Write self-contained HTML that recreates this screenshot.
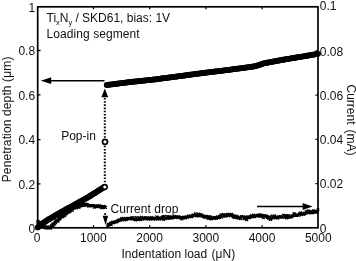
<!DOCTYPE html><html><head><meta charset="utf-8"><style>html,body{margin:0;padding:0;background:#fff}</style></head><body><svg width="356" height="261" viewBox="0 0 356 261" style="display:block;font-family:'Liberation Sans',Arial,sans-serif"><rect width="356" height="261" fill="#fff"/><path d="M36.4 220.7l2.7 2.7M36.4 223.4l2.7 -2.7M36.7 220.0l2.7 2.7M36.7 222.7l2.7 -2.7M37.1 220.9l2.7 2.7M37.1 223.6l2.7 -2.7M37.4 221.7l2.7 2.7M37.4 224.4l2.7 -2.7M37.8 221.6l2.7 2.7M37.8 224.3l2.7 -2.7M38.1 222.7l2.7 2.7M38.1 225.4l2.7 -2.7M38.5 223.3l2.7 2.7M38.5 226.0l2.7 -2.7M38.9 222.8l2.7 2.7M38.9 225.5l2.7 -2.7M39.5 224.8l2.7 2.7M39.5 227.5l2.7 -2.7M40.1 224.9l2.7 2.7M40.1 227.6l2.7 -2.7M40.7 224.6l2.7 2.7M40.7 227.3l2.7 -2.7M41.3 225.2l2.7 2.7M41.3 227.9l2.7 -2.7M41.9 226.0l2.7 2.7M41.9 228.7l2.7 -2.7M42.5 225.9l2.7 2.7M42.5 228.6l2.7 -2.7M43.2 226.0l2.7 2.7M43.2 228.7l2.7 -2.7M43.9 225.3l2.7 2.7M43.9 228.0l2.7 -2.7M44.6 226.6l2.7 2.7M44.6 229.3l2.7 -2.7M45.3 226.4l2.7 2.7M45.3 229.1l2.7 -2.7M46.0 226.5l2.7 2.7M46.0 229.2l2.7 -2.7M46.7 225.4l2.7 2.7M46.7 228.1l2.7 -2.7M47.4 226.8l2.7 2.7M47.4 229.5l2.7 -2.7M48.1 226.5l2.7 2.7M48.1 229.2l2.7 -2.7M48.7 226.1l2.7 2.7M48.7 228.8l2.7 -2.7M49.3 226.8l2.7 2.7M49.3 229.5l2.7 -2.7M49.8 225.4l2.7 2.7M49.8 228.1l2.7 -2.7M50.3 224.1l2.7 2.7M50.3 226.8l2.7 -2.7M50.8 224.2l2.7 2.7M50.8 226.9l2.7 -2.7M51.3 222.6l2.7 2.7M51.3 225.3l2.7 -2.7M51.8 224.1l2.7 2.7M51.8 226.8l2.7 -2.7M52.3 222.7l2.7 2.7M52.3 225.4l2.7 -2.7M52.8 222.0l2.7 2.7M52.8 224.7l2.7 -2.7M53.3 222.6l2.7 2.7M53.3 225.3l2.7 -2.7M53.8 220.5l2.7 2.7M53.8 223.2l2.7 -2.7M54.3 221.3l2.7 2.7M54.3 224.0l2.7 -2.7M54.8 219.3l2.7 2.7M54.8 222.0l2.7 -2.7M55.3 219.6l2.7 2.7M55.3 222.3l2.7 -2.7M55.8 218.8l2.7 2.7M55.8 221.5l2.7 -2.7M56.3 219.9l2.7 2.7M56.3 222.6l2.7 -2.7M56.8 219.6l2.7 2.7M56.8 222.3l2.7 -2.7M57.3 217.8l2.7 2.7M57.3 220.5l2.7 -2.7M57.8 218.0l2.7 2.7M57.8 220.7l2.7 -2.7M58.4 217.0l2.7 2.7M58.4 219.7l2.7 -2.7M58.9 217.0l2.7 2.7M58.9 219.7l2.7 -2.7M59.4 215.7l2.7 2.7M59.4 218.4l2.7 -2.7M60.0 214.7l2.7 2.7M60.0 217.4l2.7 -2.7M60.5 214.2l2.7 2.7M60.5 216.9l2.7 -2.7M61.1 215.1l2.7 2.7M61.1 217.8l2.7 -2.7M61.6 215.7l2.7 2.7M61.6 218.4l2.7 -2.7M62.2 214.1l2.7 2.7M62.2 216.8l2.7 -2.7M62.7 213.2l2.7 2.7M62.7 215.9l2.7 -2.7M63.3 214.3l2.7 2.7M63.3 217.0l2.7 -2.7M63.9 212.9l2.7 2.7M63.9 215.6l2.7 -2.7M64.5 212.4l2.7 2.7M64.5 215.1l2.7 -2.7M65.0 212.1l2.7 2.7M65.0 214.8l2.7 -2.7M65.6 211.4l2.7 2.7M65.6 214.1l2.7 -2.7M66.2 210.9l2.7 2.7M66.2 213.6l2.7 -2.7M66.8 209.9l2.7 2.7M66.8 212.6l2.7 -2.7M67.4 210.6l2.7 2.7M67.4 213.3l2.7 -2.7M68.0 209.9l2.7 2.7M68.0 212.6l2.7 -2.7M68.5 210.3l2.7 2.7M68.5 213.0l2.7 -2.7M69.1 209.0l2.7 2.7M69.1 211.7l2.7 -2.7M69.7 207.7l2.7 2.7M69.7 210.4l2.7 -2.7M70.3 208.4l2.7 2.7M70.3 211.1l2.7 -2.7M70.9 209.1l2.7 2.7M70.9 211.8l2.7 -2.7M71.5 207.5l2.7 2.7M71.5 210.2l2.7 -2.7M72.1 206.8l2.7 2.7M72.1 209.5l2.7 -2.7M72.7 206.3l2.7 2.7M72.7 209.0l2.7 -2.7M73.3 206.0l2.7 2.7M73.3 208.7l2.7 -2.7M74.0 206.1l2.7 2.7M74.0 208.8l2.7 -2.7M74.6 205.4l2.7 2.7M74.6 208.1l2.7 -2.7M75.3 206.7l2.7 2.7M75.3 209.4l2.7 -2.7M75.9 205.4l2.7 2.7M75.9 208.1l2.7 -2.7M76.6 205.4l2.7 2.7M76.6 208.1l2.7 -2.7M77.2 205.9l2.7 2.7M77.2 208.6l2.7 -2.7M77.9 205.7l2.7 2.7M77.9 208.4l2.7 -2.7M78.6 204.4l2.7 2.7M78.6 207.1l2.7 -2.7M79.2 204.5l2.7 2.7M79.2 207.2l2.7 -2.7M79.9 204.5l2.7 2.7M79.9 207.2l2.7 -2.7M80.5 203.7l2.7 2.7M80.5 206.4l2.7 -2.7M81.2 202.7l2.7 2.7M81.2 205.4l2.7 -2.7M81.9 204.0l2.7 2.7M81.9 206.7l2.7 -2.7M82.6 204.1l2.7 2.7M82.6 206.8l2.7 -2.7M83.3 203.7l2.7 2.7M83.3 206.4l2.7 -2.7M84.0 202.8l2.7 2.7M84.0 205.5l2.7 -2.7M84.7 203.1l2.7 2.7M84.7 205.8l2.7 -2.7M85.4 203.0l2.7 2.7M85.4 205.7l2.7 -2.7M86.1 203.3l2.7 2.7M86.1 206.0l2.7 -2.7M86.8 204.4l2.7 2.7M86.8 207.1l2.7 -2.7M87.5 204.7l2.7 2.7M87.5 207.4l2.7 -2.7M88.2 204.3l2.7 2.7M88.2 207.0l2.7 -2.7M88.9 204.3l2.7 2.7M88.9 207.0l2.7 -2.7M89.6 204.5l2.7 2.7M89.6 207.2l2.7 -2.7M90.2 204.2l2.7 2.7M90.2 206.9l2.7 -2.7M90.9 204.3l2.7 2.7M90.9 207.0l2.7 -2.7M91.6 204.1l2.7 2.7M91.6 206.8l2.7 -2.7M92.3 204.6l2.7 2.7M92.3 207.3l2.7 -2.7M93.0 206.0l2.7 2.7M93.0 208.7l2.7 -2.7M93.7 205.3l2.7 2.7M93.7 208.0l2.7 -2.7M94.4 204.6l2.7 2.7M94.4 207.3l2.7 -2.7M95.1 204.6l2.7 2.7M95.1 207.3l2.7 -2.7M95.8 204.4l2.7 2.7M95.8 207.1l2.7 -2.7M96.5 205.2l2.7 2.7M96.5 207.9l2.7 -2.7M97.2 205.3l2.7 2.7M97.2 208.0l2.7 -2.7M97.9 204.2l2.7 2.7M97.9 206.9l2.7 -2.7M98.6 205.4l2.7 2.7M98.6 208.1l2.7 -2.7M99.3 204.8l2.7 2.7M99.3 207.5l2.7 -2.7M100.0 206.1l2.7 2.7M100.0 208.8l2.7 -2.7M100.7 205.4l2.7 2.7M100.7 208.1l2.7 -2.7M101.4 206.4l2.7 2.7M101.4 209.1l2.7 -2.7M102.1 205.1l2.7 2.7M102.1 207.8l2.7 -2.7M102.8 205.2l2.7 2.7M102.8 207.9l2.7 -2.7M103.5 205.6l2.7 2.7M103.5 208.3l2.7 -2.7M104.2 206.1l2.7 2.7M104.2 208.8l2.7 -2.7M106.2 224.7l2.7 2.7M106.2 227.4l2.7 -2.7M106.9 223.0l2.7 2.7M106.9 225.7l2.7 -2.7M107.5 223.7l2.7 2.7M107.5 226.4l2.7 -2.7M108.1 223.2l2.7 2.7M108.1 225.9l2.7 -2.7M108.7 222.5l2.7 2.7M108.7 225.2l2.7 -2.7M109.3 222.0l2.7 2.7M109.3 224.7l2.7 -2.7M109.9 223.4l2.7 2.7M109.9 226.1l2.7 -2.7M110.5 221.5l2.7 2.7M110.5 224.2l2.7 -2.7M111.1 220.8l2.7 2.7M111.1 223.5l2.7 -2.7M111.8 221.7l2.7 2.7M111.8 224.4l2.7 -2.7M112.4 221.0l2.7 2.7M112.4 223.7l2.7 -2.7M113.0 220.6l2.7 2.7M113.0 223.3l2.7 -2.7M113.7 220.9l2.7 2.7M113.7 223.6l2.7 -2.7M114.3 220.4l2.7 2.7M114.3 223.1l2.7 -2.7M115.0 220.1l2.7 2.7M115.0 222.8l2.7 -2.7M115.6 220.3l2.7 2.7M115.6 223.0l2.7 -2.7M116.3 219.6l2.7 2.7M116.3 222.3l2.7 -2.7M117.0 218.8l2.7 2.7M117.0 221.5l2.7 -2.7M117.7 218.9l2.7 2.7M117.7 221.6l2.7 -2.7M118.4 218.6l2.7 2.7M118.4 221.3l2.7 -2.7M119.1 219.0l2.7 2.7M119.1 221.7l2.7 -2.7M119.8 217.9l2.7 2.7M119.8 220.6l2.7 -2.7M120.4 217.2l2.7 2.7M120.4 219.9l2.7 -2.7M121.1 218.6l2.7 2.7M121.1 221.3l2.7 -2.7M121.8 217.4l2.7 2.7M121.8 220.1l2.7 -2.7M122.5 216.9l2.7 2.7M122.5 219.6l2.7 -2.7M123.2 218.5l2.7 2.7M123.2 221.2l2.7 -2.7M123.9 217.6l2.7 2.7M123.9 220.3l2.7 -2.7M124.6 218.5l2.7 2.7M124.6 221.2l2.7 -2.7M125.3 217.6l2.7 2.7M125.3 220.3l2.7 -2.7M126.0 217.1l2.7 2.7M126.0 219.8l2.7 -2.7M126.7 216.9l2.7 2.7M126.7 219.6l2.7 -2.7M127.4 217.4l2.7 2.7M127.4 220.1l2.7 -2.7M128.1 217.5l2.7 2.7M128.1 220.2l2.7 -2.7M128.8 217.1l2.7 2.7M128.8 219.8l2.7 -2.7M129.5 217.4l2.7 2.7M129.5 220.1l2.7 -2.7M130.2 216.5l2.7 2.7M130.2 219.2l2.7 -2.7M130.9 217.6l2.7 2.7M130.9 220.3l2.7 -2.7M131.6 216.2l2.7 2.7M131.6 218.9l2.7 -2.7M132.3 217.3l2.7 2.7M132.3 220.0l2.7 -2.7M133.0 217.9l2.7 2.7M133.0 220.6l2.7 -2.7M133.7 218.2l2.7 2.7M133.7 220.9l2.7 -2.7M134.4 218.6l2.7 2.7M134.4 221.3l2.7 -2.7M135.1 216.1l2.7 2.7M135.1 218.8l2.7 -2.7M135.8 217.8l2.7 2.7M135.8 220.5l2.7 -2.7M136.5 218.1l2.7 2.7M136.5 220.8l2.7 -2.7M137.2 217.9l2.7 2.7M137.2 220.6l2.7 -2.7M137.9 216.4l2.7 2.7M137.9 219.1l2.7 -2.7M138.6 217.4l2.7 2.7M138.6 220.1l2.7 -2.7M139.3 218.5l2.7 2.7M139.3 221.2l2.7 -2.7M140.0 215.9l2.7 2.7M140.0 218.6l2.7 -2.7M140.7 217.4l2.7 2.7M140.7 220.1l2.7 -2.7M141.4 217.9l2.7 2.7M141.4 220.6l2.7 -2.7M142.1 216.6l2.7 2.7M142.1 219.3l2.7 -2.7M142.8 217.5l2.7 2.7M142.8 220.2l2.7 -2.7M143.5 216.3l2.7 2.7M143.5 219.0l2.7 -2.7M144.2 216.5l2.7 2.7M144.2 219.2l2.7 -2.7M144.9 216.5l2.7 2.7M144.9 219.2l2.7 -2.7M145.6 217.3l2.7 2.7M145.6 220.0l2.7 -2.7M146.3 217.1l2.7 2.7M146.3 219.8l2.7 -2.7M147.0 217.8l2.7 2.7M147.0 220.5l2.7 -2.7M147.7 216.4l2.7 2.7M147.7 219.1l2.7 -2.7M148.4 217.0l2.7 2.7M148.4 219.7l2.7 -2.7M149.1 217.9l2.7 2.7M149.1 220.6l2.7 -2.7M149.8 217.5l2.7 2.7M149.8 220.2l2.7 -2.7M150.5 216.1l2.7 2.7M150.5 218.8l2.7 -2.7M151.2 217.6l2.7 2.7M151.2 220.3l2.7 -2.7M151.9 216.7l2.7 2.7M151.9 219.4l2.7 -2.7M152.6 217.4l2.7 2.7M152.6 220.1l2.7 -2.7M153.3 217.3l2.7 2.7M153.3 220.0l2.7 -2.7M154.0 218.0l2.7 2.7M154.0 220.7l2.7 -2.7M154.7 217.1l2.7 2.7M154.7 219.8l2.7 -2.7M155.4 215.6l2.7 2.7M155.4 218.3l2.7 -2.7M156.1 216.0l2.7 2.7M156.1 218.7l2.7 -2.7M156.8 217.5l2.7 2.7M156.8 220.2l2.7 -2.7M157.5 216.8l2.7 2.7M157.5 219.5l2.7 -2.7M158.2 217.8l2.7 2.7M158.2 220.5l2.7 -2.7M158.9 217.1l2.7 2.7M158.9 219.8l2.7 -2.7M159.6 216.3l2.7 2.7M159.6 219.0l2.7 -2.7M160.3 217.6l2.7 2.7M160.3 220.3l2.7 -2.7M161.0 216.2l2.7 2.7M161.0 218.9l2.7 -2.7M161.7 215.2l2.7 2.7M161.7 217.9l2.7 -2.7M162.4 218.2l2.7 2.7M162.4 220.9l2.7 -2.7M163.1 215.2l2.7 2.7M163.1 217.9l2.7 -2.7M163.8 217.1l2.7 2.7M163.8 219.8l2.7 -2.7M164.5 217.2l2.7 2.7M164.5 219.9l2.7 -2.7M165.2 216.6l2.7 2.7M165.2 219.3l2.7 -2.7M165.9 215.2l2.7 2.7M165.9 217.9l2.7 -2.7M166.6 217.2l2.7 2.7M166.6 219.9l2.7 -2.7M167.3 215.3l2.7 2.7M167.3 218.0l2.7 -2.7M168.0 215.3l2.7 2.7M168.0 218.0l2.7 -2.7M168.7 216.0l2.7 2.7M168.7 218.7l2.7 -2.7M169.4 216.8l2.7 2.7M169.4 219.5l2.7 -2.7M170.1 216.3l2.7 2.7M170.1 219.0l2.7 -2.7M170.8 216.7l2.7 2.7M170.8 219.4l2.7 -2.7M171.5 215.7l2.7 2.7M171.5 218.4l2.7 -2.7M172.2 215.8l2.7 2.7M172.2 218.5l2.7 -2.7M172.9 215.0l2.7 2.7M172.9 217.7l2.7 -2.7M173.6 215.6l2.7 2.7M173.6 218.3l2.7 -2.7M174.3 216.2l2.7 2.7M174.3 218.9l2.7 -2.7M175.0 215.5l2.7 2.7M175.0 218.2l2.7 -2.7M175.7 216.1l2.7 2.7M175.7 218.8l2.7 -2.7M176.4 215.4l2.7 2.7M176.4 218.1l2.7 -2.7M177.1 215.5l2.7 2.7M177.1 218.2l2.7 -2.7M177.8 216.0l2.7 2.7M177.8 218.7l2.7 -2.7M178.5 216.0l2.7 2.7M178.5 218.7l2.7 -2.7M179.2 216.7l2.7 2.7M179.2 219.4l2.7 -2.7M179.9 216.5l2.7 2.7M179.9 219.2l2.7 -2.7M180.6 217.7l2.7 2.7M180.6 220.4l2.7 -2.7M181.3 216.4l2.7 2.7M181.3 219.1l2.7 -2.7M182.0 216.5l2.7 2.7M182.0 219.2l2.7 -2.7M182.6 215.7l2.7 2.7M182.6 218.4l2.7 -2.7M183.3 216.3l2.7 2.7M183.3 219.0l2.7 -2.7M184.0 216.6l2.7 2.7M184.0 219.3l2.7 -2.7M184.7 215.3l2.7 2.7M184.7 218.0l2.7 -2.7M185.3 215.6l2.7 2.7M185.3 218.3l2.7 -2.7M186.0 216.0l2.7 2.7M186.0 218.7l2.7 -2.7M186.7 215.1l2.7 2.7M186.7 217.8l2.7 -2.7M187.3 214.6l2.7 2.7M187.3 217.3l2.7 -2.7M188.0 215.5l2.7 2.7M188.0 218.2l2.7 -2.7M188.7 214.7l2.7 2.7M188.7 217.4l2.7 -2.7M189.4 214.8l2.7 2.7M189.4 217.5l2.7 -2.7M190.0 215.3l2.7 2.7M190.0 218.0l2.7 -2.7M190.7 215.1l2.7 2.7M190.7 217.8l2.7 -2.7M191.4 213.9l2.7 2.7M191.4 216.6l2.7 -2.7M192.1 213.7l2.7 2.7M192.1 216.4l2.7 -2.7M192.8 214.2l2.7 2.7M192.8 216.9l2.7 -2.7M193.5 213.8l2.7 2.7M193.5 216.5l2.7 -2.7M194.2 212.4l2.7 2.7M194.2 215.1l2.7 -2.7M194.9 214.7l2.7 2.7M194.9 217.4l2.7 -2.7M195.6 213.6l2.7 2.7M195.6 216.3l2.7 -2.7M196.3 214.1l2.7 2.7M196.3 216.8l2.7 -2.7M197.0 212.6l2.7 2.7M197.0 215.3l2.7 -2.7M197.7 214.7l2.7 2.7M197.7 217.4l2.7 -2.7M198.3 213.5l2.7 2.7M198.3 216.2l2.7 -2.7M199.0 214.0l2.7 2.7M199.0 216.7l2.7 -2.7M199.7 213.2l2.7 2.7M199.7 215.9l2.7 -2.7M200.4 214.4l2.7 2.7M200.4 217.1l2.7 -2.7M201.0 214.5l2.7 2.7M201.0 217.2l2.7 -2.7M201.7 214.7l2.7 2.7M201.7 217.4l2.7 -2.7M202.4 215.4l2.7 2.7M202.4 218.1l2.7 -2.7M203.1 215.3l2.7 2.7M203.1 218.0l2.7 -2.7M203.7 216.1l2.7 2.7M203.7 218.8l2.7 -2.7M204.4 215.2l2.7 2.7M204.4 217.9l2.7 -2.7M205.1 215.0l2.7 2.7M205.1 217.7l2.7 -2.7M205.8 215.9l2.7 2.7M205.8 218.6l2.7 -2.7M206.5 216.5l2.7 2.7M206.5 219.2l2.7 -2.7M207.2 217.1l2.7 2.7M207.2 219.8l2.7 -2.7M207.8 217.0l2.7 2.7M207.8 219.7l2.7 -2.7M208.5 215.2l2.7 2.7M208.5 217.9l2.7 -2.7M209.2 216.8l2.7 2.7M209.2 219.5l2.7 -2.7M209.9 217.7l2.7 2.7M209.9 220.4l2.7 -2.7M210.6 216.7l2.7 2.7M210.6 219.4l2.7 -2.7M211.3 216.2l2.7 2.7M211.3 218.9l2.7 -2.7M212.0 216.9l2.7 2.7M212.0 219.6l2.7 -2.7M212.7 216.2l2.7 2.7M212.7 218.9l2.7 -2.7M213.4 216.9l2.7 2.7M213.4 219.6l2.7 -2.7M214.1 216.3l2.7 2.7M214.1 219.0l2.7 -2.7M214.8 217.2l2.7 2.7M214.8 219.9l2.7 -2.7M215.5 216.4l2.7 2.7M215.5 219.1l2.7 -2.7M216.2 215.3l2.7 2.7M216.2 218.0l2.7 -2.7M216.8 216.2l2.7 2.7M216.8 218.9l2.7 -2.7M217.5 216.3l2.7 2.7M217.5 219.0l2.7 -2.7M218.2 215.1l2.7 2.7M218.2 217.8l2.7 -2.7M218.9 215.0l2.7 2.7M218.9 217.7l2.7 -2.7M219.6 213.5l2.7 2.7M219.6 216.2l2.7 -2.7M220.3 215.8l2.7 2.7M220.3 218.5l2.7 -2.7M221.0 214.5l2.7 2.7M221.0 217.2l2.7 -2.7M221.7 213.2l2.7 2.7M221.7 215.9l2.7 -2.7M222.4 213.4l2.7 2.7M222.4 216.1l2.7 -2.7M223.0 214.4l2.7 2.7M223.0 217.1l2.7 -2.7M223.7 215.0l2.7 2.7M223.7 217.7l2.7 -2.7M224.4 214.2l2.7 2.7M224.4 216.9l2.7 -2.7M225.1 214.5l2.7 2.7M225.1 217.2l2.7 -2.7M225.8 213.2l2.7 2.7M225.8 215.9l2.7 -2.7M226.5 212.9l2.7 2.7M226.5 215.6l2.7 -2.7M227.2 214.5l2.7 2.7M227.2 217.2l2.7 -2.7M227.9 214.0l2.7 2.7M227.9 216.7l2.7 -2.7M228.6 213.5l2.7 2.7M228.6 216.2l2.7 -2.7M229.3 214.4l2.7 2.7M229.3 217.1l2.7 -2.7M229.9 212.9l2.7 2.7M229.9 215.6l2.7 -2.7M230.6 213.4l2.7 2.7M230.6 216.1l2.7 -2.7M231.3 214.6l2.7 2.7M231.3 217.3l2.7 -2.7M232.0 215.4l2.7 2.7M232.0 218.1l2.7 -2.7M232.6 214.4l2.7 2.7M232.6 217.1l2.7 -2.7M233.1 216.1l2.7 2.7M233.1 218.8l2.7 -2.7M233.7 214.8l2.7 2.7M233.7 217.5l2.7 -2.7M234.3 215.9l2.7 2.7M234.3 218.6l2.7 -2.7M234.9 215.8l2.7 2.7M234.9 218.5l2.7 -2.7M235.6 214.8l2.7 2.7M235.6 217.5l2.7 -2.7M236.3 216.3l2.7 2.7M236.3 219.0l2.7 -2.7M237.0 216.8l2.7 2.7M237.0 219.5l2.7 -2.7M237.7 216.1l2.7 2.7M237.7 218.8l2.7 -2.7M238.4 216.2l2.7 2.7M238.4 218.9l2.7 -2.7M239.1 217.3l2.7 2.7M239.1 220.0l2.7 -2.7M239.8 215.4l2.7 2.7M239.8 218.1l2.7 -2.7M240.5 215.2l2.7 2.7M240.5 217.9l2.7 -2.7M241.2 215.8l2.7 2.7M241.2 218.5l2.7 -2.7M241.9 215.4l2.7 2.7M241.9 218.1l2.7 -2.7M242.6 217.3l2.7 2.7M242.6 220.0l2.7 -2.7M243.3 216.5l2.7 2.7M243.3 219.2l2.7 -2.7M244.0 215.6l2.7 2.7M244.0 218.3l2.7 -2.7M244.7 215.8l2.7 2.7M244.7 218.5l2.7 -2.7M245.4 218.3l2.7 2.7M245.4 221.0l2.7 -2.7M246.1 215.7l2.7 2.7M246.1 218.4l2.7 -2.7M246.8 215.5l2.7 2.7M246.8 218.2l2.7 -2.7M247.4 216.2l2.7 2.7M247.4 218.9l2.7 -2.7M248.1 216.3l2.7 2.7M248.1 219.0l2.7 -2.7M248.8 215.8l2.7 2.7M248.8 218.5l2.7 -2.7M249.5 214.8l2.7 2.7M249.5 217.5l2.7 -2.7M250.2 214.4l2.7 2.7M250.2 217.1l2.7 -2.7M250.9 215.6l2.7 2.7M250.9 218.3l2.7 -2.7M251.5 214.9l2.7 2.7M251.5 217.6l2.7 -2.7M252.2 213.6l2.7 2.7M252.2 216.3l2.7 -2.7M252.9 215.5l2.7 2.7M252.9 218.2l2.7 -2.7M253.6 215.0l2.7 2.7M253.6 217.7l2.7 -2.7M254.3 214.3l2.7 2.7M254.3 217.0l2.7 -2.7M255.0 214.3l2.7 2.7M255.0 217.0l2.7 -2.7M255.7 214.7l2.7 2.7M255.7 217.4l2.7 -2.7M256.4 214.0l2.7 2.7M256.4 216.7l2.7 -2.7M257.1 213.6l2.7 2.7M257.1 216.3l2.7 -2.7M257.8 214.8l2.7 2.7M257.8 217.5l2.7 -2.7M258.5 213.5l2.7 2.7M258.5 216.2l2.7 -2.7M259.2 214.9l2.7 2.7M259.2 217.6l2.7 -2.7M259.9 213.6l2.7 2.7M259.9 216.3l2.7 -2.7M260.6 214.7l2.7 2.7M260.6 217.4l2.7 -2.7M261.3 214.8l2.7 2.7M261.3 217.5l2.7 -2.7M262.0 216.3l2.7 2.7M262.0 219.0l2.7 -2.7M262.7 214.3l2.7 2.7M262.7 217.0l2.7 -2.7M263.4 214.2l2.7 2.7M263.4 216.9l2.7 -2.7M264.0 214.9l2.7 2.7M264.0 217.6l2.7 -2.7M264.7 214.6l2.7 2.7M264.7 217.3l2.7 -2.7M265.4 215.1l2.7 2.7M265.4 217.8l2.7 -2.7M266.1 216.0l2.7 2.7M266.1 218.7l2.7 -2.7M266.8 216.4l2.7 2.7M266.8 219.1l2.7 -2.7M267.5 217.1l2.7 2.7M267.5 219.8l2.7 -2.7M268.2 215.4l2.7 2.7M268.2 218.1l2.7 -2.7M268.9 218.1l2.7 2.7M268.9 220.8l2.7 -2.7M269.6 217.7l2.7 2.7M269.6 220.4l2.7 -2.7M270.3 216.2l2.7 2.7M270.3 218.9l2.7 -2.7M271.0 214.7l2.7 2.7M271.0 217.4l2.7 -2.7M271.7 216.3l2.7 2.7M271.7 219.0l2.7 -2.7M272.4 216.4l2.7 2.7M272.4 219.1l2.7 -2.7M273.1 214.5l2.7 2.7M273.1 217.2l2.7 -2.7M273.8 216.3l2.7 2.7M273.8 219.0l2.7 -2.7M274.5 216.0l2.7 2.7M274.5 218.7l2.7 -2.7M275.2 215.5l2.7 2.7M275.2 218.2l2.7 -2.7M275.9 216.5l2.7 2.7M275.9 219.2l2.7 -2.7M276.6 216.7l2.7 2.7M276.6 219.4l2.7 -2.7M277.3 215.5l2.7 2.7M277.3 218.2l2.7 -2.7M278.0 216.0l2.7 2.7M278.0 218.7l2.7 -2.7M278.7 215.3l2.7 2.7M278.7 218.0l2.7 -2.7M279.4 215.1l2.7 2.7M279.4 217.8l2.7 -2.7M280.1 215.7l2.7 2.7M280.1 218.4l2.7 -2.7M280.8 216.0l2.7 2.7M280.8 218.7l2.7 -2.7M281.5 215.2l2.7 2.7M281.5 217.9l2.7 -2.7M282.2 213.9l2.7 2.7M282.2 216.6l2.7 -2.7M282.9 215.9l2.7 2.7M282.9 218.6l2.7 -2.7M283.6 214.2l2.7 2.7M283.6 216.9l2.7 -2.7M284.3 215.5l2.7 2.7M284.3 218.2l2.7 -2.7M285.0 216.7l2.7 2.7M285.0 219.4l2.7 -2.7M285.7 215.3l2.7 2.7M285.7 218.0l2.7 -2.7M286.4 214.4l2.7 2.7M286.4 217.1l2.7 -2.7M287.1 214.1l2.7 2.7M287.1 216.8l2.7 -2.7M287.8 216.1l2.7 2.7M287.8 218.8l2.7 -2.7M288.5 215.1l2.7 2.7M288.5 217.8l2.7 -2.7M289.2 215.5l2.7 2.7M289.2 218.2l2.7 -2.7M289.9 215.7l2.7 2.7M289.9 218.4l2.7 -2.7M290.5 214.9l2.7 2.7M290.5 217.6l2.7 -2.7M291.2 214.5l2.7 2.7M291.2 217.2l2.7 -2.7M291.9 213.9l2.7 2.7M291.9 216.6l2.7 -2.7M292.6 212.1l2.7 2.7M292.6 214.8l2.7 -2.7M293.3 213.1l2.7 2.7M293.3 215.8l2.7 -2.7M294.0 214.1l2.7 2.7M294.0 216.8l2.7 -2.7M294.6 213.8l2.7 2.7M294.6 216.5l2.7 -2.7M295.3 214.1l2.7 2.7M295.3 216.8l2.7 -2.7M296.0 213.6l2.7 2.7M296.0 216.3l2.7 -2.7M296.7 213.6l2.7 2.7M296.7 216.3l2.7 -2.7M297.4 213.9l2.7 2.7M297.4 216.6l2.7 -2.7M298.0 212.4l2.7 2.7M298.0 215.1l2.7 -2.7M298.7 212.7l2.7 2.7M298.7 215.4l2.7 -2.7M299.4 211.5l2.7 2.7M299.4 214.2l2.7 -2.7M300.1 213.3l2.7 2.7M300.1 216.0l2.7 -2.7M300.7 212.4l2.7 2.7M300.7 215.1l2.7 -2.7M301.4 212.5l2.7 2.7M301.4 215.2l2.7 -2.7M302.1 213.1l2.7 2.7M302.1 215.8l2.7 -2.7M302.8 212.6l2.7 2.7M302.8 215.3l2.7 -2.7M303.5 211.6l2.7 2.7M303.5 214.3l2.7 -2.7M304.1 212.0l2.7 2.7M304.1 214.7l2.7 -2.7M304.8 210.2l2.7 2.7M304.8 212.9l2.7 -2.7M305.5 211.4l2.7 2.7M305.5 214.1l2.7 -2.7M306.2 211.0l2.7 2.7M306.2 213.7l2.7 -2.7M306.8 209.5l2.7 2.7M306.8 212.2l2.7 -2.7M307.5 211.7l2.7 2.7M307.5 214.4l2.7 -2.7M308.2 210.1l2.7 2.7M308.2 212.8l2.7 -2.7M308.9 211.1l2.7 2.7M308.9 213.8l2.7 -2.7M309.6 210.3l2.7 2.7M309.6 213.0l2.7 -2.7M310.3 211.3l2.7 2.7M310.3 214.0l2.7 -2.7M311.0 211.5l2.7 2.7M311.0 214.2l2.7 -2.7M311.7 209.8l2.7 2.7M311.7 212.5l2.7 -2.7M312.4 209.3l2.7 2.7M312.4 212.0l2.7 -2.7M313.1 210.4l2.7 2.7M313.1 213.1l2.7 -2.7M313.8 211.1l2.7 2.7M313.8 213.8l2.7 -2.7M314.5 210.2l2.7 2.7M314.5 212.9l2.7 -2.7M315.2 210.1l2.7 2.7M315.2 212.8l2.7 -2.7M315.9 210.9l2.7 2.7M315.9 213.6l2.7 -2.7M316.6 208.5l2.7 2.7M316.6 211.2l2.7 -2.7" stroke="#000" stroke-width="1.15" fill="none"/><rect x="37.7" y="6.8" width="280.30" height="221.00" fill="none" stroke="#000" stroke-width="1.7"/><path d="M93.47 227.8v-2.5M93.47 6.8v2.5M149.69 227.8v-2.5M149.69 6.8v2.5M205.91 227.8v-2.5M205.91 6.8v2.5M262.13 227.8v-2.5M262.13 6.8v2.5M37.7 183.95h2.8M318.0 183.60h-2.5M37.7 139.60h2.8M318.0 139.40h-2.5M37.7 94.90h2.8M318.0 95.20h-2.5M37.7 50.50h2.8M318.0 51.00h-2.5" stroke="#000" stroke-width="1.3" fill="none"/><g font-size="12" fill="#111"><text x="37.15" y="242" text-anchor="middle">0</text><text x="93.37" y="242" text-anchor="middle">1000</text><text x="149.59" y="242" text-anchor="middle">2000</text><text x="205.81" y="242" text-anchor="middle">3000</text><text x="262.03" y="242" text-anchor="middle">4000</text><text x="318.25" y="242" text-anchor="middle">5000</text><text x="35.1" y="233.40" text-anchor="end">0</text><text x="35.1" y="188.50" text-anchor="end">0.2</text><text x="35.1" y="144.20" text-anchor="end">0.4</text><text x="35.1" y="99.60" text-anchor="end">0.6</text><text x="35.1" y="55.20" text-anchor="end">0.8</text><text x="35.1" y="11.60" text-anchor="end">1</text><text x="319.8" y="232.50">0</text><text x="319.8" y="188.30">0.02</text><text x="319.8" y="144.10">0.04</text><text x="319.8" y="99.90">0.06</text><text x="319.8" y="55.70">0.08</text><text x="319.8" y="9.80">0.1</text></g><text x="121.4" y="257.5" font-size="12" letter-spacing="0.03" fill="#111">Indentation load <tspan dx="0.9">(μN)</tspan></text><text transform="translate(10.8,182.3) rotate(-90)" font-size="12" letter-spacing="0.13" fill="#111">Penetration depth (μm)</text><text transform="translate(346.5,84.5) rotate(90)" font-size="12" fill="#111">Current <tspan dx="1.6">(mA)</tspan></text><text x="46.5" y="22" font-size="12" fill="#111">Ti<tspan font-size="7.3" dy="2.5">x</tspan><tspan dy="-2.5">N</tspan><tspan font-size="7.3" dy="2.5">y</tspan><tspan dy="-2.5"> / SKD61, bias: 1V</tspan></text><text x="46.5" y="38" font-size="12" letter-spacing="0.08" fill="#111">Loading segment</text><text x="61.2" y="140.1" font-size="12" fill="#111">Pop-in</text><text x="110.5" y="212.6" letter-spacing="0.04" font-size="12" fill="#111">Current drop</text><g fill="none" stroke="#000" stroke-width="1.5"><circle cx="37.7" cy="227.4" r="2.15"/><circle cx="38.6" cy="226.7" r="2.15"/><circle cx="39.4" cy="226.0" r="2.15"/><circle cx="40.3" cy="225.3" r="2.15"/><circle cx="41.1" cy="224.5" r="2.15"/><circle cx="42.0" cy="223.8" r="2.15"/><circle cx="42.9" cy="223.2" r="2.15"/><circle cx="43.8" cy="222.6" r="2.15"/><circle cx="44.7" cy="221.9" r="2.15"/><circle cx="45.6" cy="221.3" r="2.15"/><circle cx="46.6" cy="220.7" r="2.15"/><circle cx="47.5" cy="220.1" r="2.15"/><circle cx="48.4" cy="219.5" r="2.15"/><circle cx="49.4" cy="218.9" r="2.15"/><circle cx="50.3" cy="218.3" r="2.15"/><circle cx="51.3" cy="217.8" r="2.15"/><circle cx="52.3" cy="217.2" r="2.15"/><circle cx="53.2" cy="216.7" r="2.15"/><circle cx="54.2" cy="216.1" r="2.15"/><circle cx="55.2" cy="215.6" r="2.15"/><circle cx="56.1" cy="215.0" r="2.15"/><circle cx="57.1" cy="214.4" r="2.15"/><circle cx="58.1" cy="213.9" r="2.15"/><circle cx="59.0" cy="213.3" r="2.15"/><circle cx="60.0" cy="212.8" r="2.15"/><circle cx="60.9" cy="212.2" r="2.15"/><circle cx="61.9" cy="211.7" r="2.15"/><circle cx="62.9" cy="211.1" r="2.15"/><circle cx="63.9" cy="210.6" r="2.15"/><circle cx="64.8" cy="210.1" r="2.15"/><circle cx="65.8" cy="209.5" r="2.15"/><circle cx="66.8" cy="209.0" r="2.15"/><circle cx="67.8" cy="208.5" r="2.15"/><circle cx="68.7" cy="207.9" r="2.15"/><circle cx="69.7" cy="207.4" r="2.15"/><circle cx="70.7" cy="206.9" r="2.15"/><circle cx="71.7" cy="206.3" r="2.15"/><circle cx="72.7" cy="205.8" r="2.15"/><circle cx="73.6" cy="205.3" r="2.15"/><circle cx="74.6" cy="204.7" r="2.15"/><circle cx="75.6" cy="204.2" r="2.15"/><circle cx="76.5" cy="203.6" r="2.15"/><circle cx="77.5" cy="203.1" r="2.15"/><circle cx="78.5" cy="202.5" r="2.15"/><circle cx="79.5" cy="202.0" r="2.15"/><circle cx="80.4" cy="201.5" r="2.15"/><circle cx="81.4" cy="200.9" r="2.15"/><circle cx="82.4" cy="200.4" r="2.15"/><circle cx="83.3" cy="199.8" r="2.15"/><circle cx="84.3" cy="199.3" r="2.15"/><circle cx="85.3" cy="198.7" r="2.15"/><circle cx="86.3" cy="198.2" r="2.15"/><circle cx="87.2" cy="197.7" r="2.15"/><circle cx="88.2" cy="197.1" r="2.15"/><circle cx="89.2" cy="196.5" r="2.15"/><circle cx="90.1" cy="195.9" r="2.15"/><circle cx="91.0" cy="195.3" r="2.15"/><circle cx="92.0" cy="194.7" r="2.15"/><circle cx="92.9" cy="194.1" r="2.15"/><circle cx="93.9" cy="193.5" r="2.15"/><circle cx="94.8" cy="193.0" r="2.15"/><circle cx="95.7" cy="192.4" r="2.15"/><circle cx="96.7" cy="191.8" r="2.15"/><circle cx="97.6" cy="191.2" r="2.15"/><circle cx="98.6" cy="190.6" r="2.15"/><circle cx="99.5" cy="190.0" r="2.15"/><circle cx="100.4" cy="189.4" r="2.15"/><circle cx="101.4" cy="188.8" r="2.15"/><circle cx="102.3" cy="188.2" r="2.15"/><circle cx="103.3" cy="187.6" r="2.15"/><circle cx="104.2" cy="187.0" r="2.15"/><circle cx="106.7" cy="85.0" r="2.15"/><circle cx="107.8" cy="84.9" r="2.15"/><circle cx="108.9" cy="84.7" r="2.15"/><circle cx="110.0" cy="84.6" r="2.15"/><circle cx="111.1" cy="84.4" r="2.15"/><circle cx="112.2" cy="84.3" r="2.15"/><circle cx="113.3" cy="84.2" r="2.15"/><circle cx="114.4" cy="84.0" r="2.15"/><circle cx="115.4" cy="83.9" r="2.15"/><circle cx="116.5" cy="83.7" r="2.15"/><circle cx="117.6" cy="83.6" r="2.15"/><circle cx="118.7" cy="83.5" r="2.15"/><circle cx="119.8" cy="83.3" r="2.15"/><circle cx="120.9" cy="83.2" r="2.15"/><circle cx="122.0" cy="83.1" r="2.15"/><circle cx="123.1" cy="82.9" r="2.15"/><circle cx="124.2" cy="82.8" r="2.15"/><circle cx="125.3" cy="82.6" r="2.15"/><circle cx="126.4" cy="82.5" r="2.15"/><circle cx="127.5" cy="82.4" r="2.15"/><circle cx="128.6" cy="82.2" r="2.15"/><circle cx="129.7" cy="82.1" r="2.15"/><circle cx="130.8" cy="82.0" r="2.15"/><circle cx="131.9" cy="81.9" r="2.15"/><circle cx="132.9" cy="81.7" r="2.15"/><circle cx="134.0" cy="81.6" r="2.15"/><circle cx="135.1" cy="81.5" r="2.15"/><circle cx="136.2" cy="81.4" r="2.15"/><circle cx="137.3" cy="81.3" r="2.15"/><circle cx="138.4" cy="81.2" r="2.15"/><circle cx="139.5" cy="81.0" r="2.15"/><circle cx="140.6" cy="80.9" r="2.15"/><circle cx="141.7" cy="80.8" r="2.15"/><circle cx="142.8" cy="80.7" r="2.15"/><circle cx="143.9" cy="80.6" r="2.15"/><circle cx="145.0" cy="80.5" r="2.15"/><circle cx="146.1" cy="80.3" r="2.15"/><circle cx="147.2" cy="80.2" r="2.15"/><circle cx="148.3" cy="80.1" r="2.15"/><circle cx="149.4" cy="80.0" r="2.15"/><circle cx="150.5" cy="79.9" r="2.15"/><circle cx="151.6" cy="79.8" r="2.15"/><circle cx="152.7" cy="79.6" r="2.15"/><circle cx="153.8" cy="79.5" r="2.15"/><circle cx="154.9" cy="79.4" r="2.15"/><circle cx="156.0" cy="79.3" r="2.15"/><circle cx="157.0" cy="79.1" r="2.15"/><circle cx="158.1" cy="79.0" r="2.15"/><circle cx="159.2" cy="78.8" r="2.15"/><circle cx="160.3" cy="78.7" r="2.15"/><circle cx="161.4" cy="78.5" r="2.15"/><circle cx="162.5" cy="78.4" r="2.15"/><circle cx="163.6" cy="78.2" r="2.15"/><circle cx="164.7" cy="78.1" r="2.15"/><circle cx="165.8" cy="78.0" r="2.15"/><circle cx="166.9" cy="77.8" r="2.15"/><circle cx="168.0" cy="77.7" r="2.15"/><circle cx="169.1" cy="77.5" r="2.15"/><circle cx="170.2" cy="77.4" r="2.15"/><circle cx="171.3" cy="77.2" r="2.15"/><circle cx="172.3" cy="77.1" r="2.15"/><circle cx="173.4" cy="77.0" r="2.15"/><circle cx="174.5" cy="76.8" r="2.15"/><circle cx="175.6" cy="76.7" r="2.15"/><circle cx="176.7" cy="76.5" r="2.15"/><circle cx="177.8" cy="76.4" r="2.15"/><circle cx="178.9" cy="76.2" r="2.15"/><circle cx="180.0" cy="76.1" r="2.15"/><circle cx="181.1" cy="76.0" r="2.15"/><circle cx="182.2" cy="75.8" r="2.15"/><circle cx="183.3" cy="75.7" r="2.15"/><circle cx="184.4" cy="75.5" r="2.15"/><circle cx="185.5" cy="75.4" r="2.15"/><circle cx="186.5" cy="75.2" r="2.15"/><circle cx="187.6" cy="75.0" r="2.15"/><circle cx="188.7" cy="74.9" r="2.15"/><circle cx="189.8" cy="74.7" r="2.15"/><circle cx="190.9" cy="74.6" r="2.15"/><circle cx="192.0" cy="74.4" r="2.15"/><circle cx="193.1" cy="74.3" r="2.15"/><circle cx="194.2" cy="74.1" r="2.15"/><circle cx="195.3" cy="74.0" r="2.15"/><circle cx="196.4" cy="73.9" r="2.15"/><circle cx="197.5" cy="73.7" r="2.15"/><circle cx="198.6" cy="73.6" r="2.15"/><circle cx="199.7" cy="73.4" r="2.15"/><circle cx="200.7" cy="73.3" r="2.15"/><circle cx="201.8" cy="73.2" r="2.15"/><circle cx="202.9" cy="73.0" r="2.15"/><circle cx="204.0" cy="72.9" r="2.15"/><circle cx="205.1" cy="72.7" r="2.15"/><circle cx="206.2" cy="72.6" r="2.15"/><circle cx="207.3" cy="72.5" r="2.15"/><circle cx="208.4" cy="72.3" r="2.15"/><circle cx="209.5" cy="72.2" r="2.15"/><circle cx="210.6" cy="72.1" r="2.15"/><circle cx="211.7" cy="71.9" r="2.15"/><circle cx="212.8" cy="71.8" r="2.15"/><circle cx="213.9" cy="71.6" r="2.15"/><circle cx="215.0" cy="71.5" r="2.15"/><circle cx="216.1" cy="71.4" r="2.15"/><circle cx="217.1" cy="71.3" r="2.15"/><circle cx="218.2" cy="71.1" r="2.15"/><circle cx="219.3" cy="71.0" r="2.15"/><circle cx="220.4" cy="70.9" r="2.15"/><circle cx="221.5" cy="70.8" r="2.15"/><circle cx="222.6" cy="70.6" r="2.15"/><circle cx="223.7" cy="70.5" r="2.15"/><circle cx="224.8" cy="70.3" r="2.15"/><circle cx="225.9" cy="70.2" r="2.15"/><circle cx="227.0" cy="70.0" r="2.15"/><circle cx="228.1" cy="69.9" r="2.15"/><circle cx="229.2" cy="69.8" r="2.15"/><circle cx="230.3" cy="69.6" r="2.15"/><circle cx="231.4" cy="69.5" r="2.15"/><circle cx="232.5" cy="69.3" r="2.15"/><circle cx="233.5" cy="69.2" r="2.15"/><circle cx="234.6" cy="69.0" r="2.15"/><circle cx="235.7" cy="68.9" r="2.15"/><circle cx="236.8" cy="68.7" r="2.15"/><circle cx="237.9" cy="68.6" r="2.15"/><circle cx="239.0" cy="68.5" r="2.15"/><circle cx="240.1" cy="68.3" r="2.15"/><circle cx="241.2" cy="68.2" r="2.15"/><circle cx="242.3" cy="68.0" r="2.15"/><circle cx="243.4" cy="67.9" r="2.15"/><circle cx="244.5" cy="67.7" r="2.15"/><circle cx="245.6" cy="67.6" r="2.15"/><circle cx="246.7" cy="67.4" r="2.15"/><circle cx="247.7" cy="67.3" r="2.15"/><circle cx="248.8" cy="67.1" r="2.15"/><circle cx="249.9" cy="67.0" r="2.15"/><circle cx="251.0" cy="66.8" r="2.15"/><circle cx="252.1" cy="66.7" r="2.15"/><circle cx="253.2" cy="66.5" r="2.15"/><circle cx="254.3" cy="66.3" r="2.15"/><circle cx="255.4" cy="66.1" r="2.15"/><circle cx="256.4" cy="65.8" r="2.15"/><circle cx="257.5" cy="65.5" r="2.15"/><circle cx="258.5" cy="65.2" r="2.15"/><circle cx="259.6" cy="64.8" r="2.15"/><circle cx="260.6" cy="64.5" r="2.15"/><circle cx="261.7" cy="64.1" r="2.15"/><circle cx="262.7" cy="63.7" r="2.15"/><circle cx="263.7" cy="63.3" r="2.15"/><circle cx="264.8" cy="63.1" r="2.15"/><circle cx="265.9" cy="62.9" r="2.15"/><circle cx="267.0" cy="62.7" r="2.15"/><circle cx="268.1" cy="62.5" r="2.15"/><circle cx="269.1" cy="62.3" r="2.15"/><circle cx="270.2" cy="62.1" r="2.15"/><circle cx="271.3" cy="61.9" r="2.15"/><circle cx="272.4" cy="61.7" r="2.15"/><circle cx="273.5" cy="61.5" r="2.15"/><circle cx="274.6" cy="61.3" r="2.15"/><circle cx="275.6" cy="61.1" r="2.15"/><circle cx="276.7" cy="60.9" r="2.15"/><circle cx="277.8" cy="60.7" r="2.15"/><circle cx="278.9" cy="60.5" r="2.15"/><circle cx="280.0" cy="60.3" r="2.15"/><circle cx="281.1" cy="60.1" r="2.15"/><circle cx="282.2" cy="59.9" r="2.15"/><circle cx="283.2" cy="59.7" r="2.15"/><circle cx="284.3" cy="59.5" r="2.15"/><circle cx="285.4" cy="59.3" r="2.15"/><circle cx="286.5" cy="59.2" r="2.15"/><circle cx="287.6" cy="59.0" r="2.15"/><circle cx="288.7" cy="58.8" r="2.15"/><circle cx="289.8" cy="58.6" r="2.15"/><circle cx="290.8" cy="58.4" r="2.15"/><circle cx="291.9" cy="58.2" r="2.15"/><circle cx="293.0" cy="58.1" r="2.15"/><circle cx="294.1" cy="57.9" r="2.15"/><circle cx="295.2" cy="57.7" r="2.15"/><circle cx="296.3" cy="57.5" r="2.15"/><circle cx="297.4" cy="57.3" r="2.15"/><circle cx="298.4" cy="57.2" r="2.15"/><circle cx="299.5" cy="57.0" r="2.15"/><circle cx="300.6" cy="56.8" r="2.15"/><circle cx="301.7" cy="56.6" r="2.15"/><circle cx="302.8" cy="56.4" r="2.15"/><circle cx="303.9" cy="56.3" r="2.15"/><circle cx="305.0" cy="56.1" r="2.15"/><circle cx="306.1" cy="55.9" r="2.15"/><circle cx="307.1" cy="55.7" r="2.15"/><circle cx="308.2" cy="55.5" r="2.15"/><circle cx="309.3" cy="55.3" r="2.15"/><circle cx="310.4" cy="55.1" r="2.15"/><circle cx="311.5" cy="54.9" r="2.15"/><circle cx="312.6" cy="54.7" r="2.15"/><circle cx="313.7" cy="54.6" r="2.15"/><circle cx="314.7" cy="54.4" r="2.15"/><circle cx="315.8" cy="54.2" r="2.15"/><circle cx="316.9" cy="54.0" r="2.15"/><circle cx="318.0" cy="53.8" r="2.15"/></g><line x1="104.8" y1="98" x2="104.8" y2="183.5" stroke="#000" stroke-width="2" stroke-dasharray="1.6 1.58"/><path d="M104.8 88.6l-3.4 8.6h6.8z" fill="#000"/><circle cx="105" cy="141.8" r="2.5" fill="#fff" stroke="#000" stroke-width="1.7"/><circle cx="104.8" cy="187" r="2.35" fill="#fff" stroke="#000" stroke-width="1.6"/><rect x="104.2" y="213.2" width="1.9" height="1.7" fill="#000"/><path d="M105.6 225l-2.9 -9.2h5.4z" fill="#000"/><path d="M104.5 80.7H50" stroke="#000" stroke-width="1.6"/><path d="M40.8 80.7l10.4 -3.4v6.8z" fill="#000"/><path d="M257 206.5H304" stroke="#000" stroke-width="1.6"/><path d="M312.6 206.5l-10 -3.4v6.8z" fill="#000"/></svg></body></html>
